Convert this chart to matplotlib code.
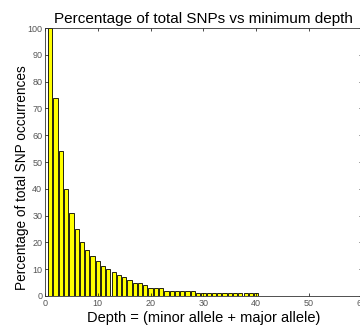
import numpy as np
import matplotlib.pyplot as plt

plt.rcParams['font.family'] = ['Liberation Sans', 'DejaVu Sans']

depth = list(range(1, 41))
percent = [100, 74, 54, 40, 31, 25, 20, 17, 15, 13,
           11, 10, 9, 8, 7, 6, 5, 5, 4, 3,
           3, 3, 2, 2, 2, 2, 2, 2, 1, 1,
           1, 1, 1, 1, 1, 1, 1, 1, 1, 1]

fig = plt.figure(figsize=(3.6, 3.27), dpi=100)
ax = fig.add_axes([0.125, 0.095, 0.88, 0.819])

ax.bar(depth, percent, width=0.8, color="yellow", edgecolor="black", linewidth=0.6)

ax.set_xlim(0, 60)
ax.set_ylim(0, 100)
ax.set_xticks(range(0, 61, 10))
ax.set_yticks(range(0, 101, 10))
ax.tick_params(direction="in", length=2, width=0.5, labelsize=6.5, labelcolor="#555555",
               top=True, right=True, pad=2)
for s in ax.spines.values():
    s.set_linewidth(0.6)
    s.set_color("#333333")

ax.set_title("Percentage of total SNPs vs minimum depth", fontsize=11, pad=4)
ax.set_xlabel("Depth = (minor allele + major allele)", fontsize=10.5)
ax.set_ylabel("Percentage of total SNP occurrences", fontsize=9.8)
ax.yaxis.set_label_coords(-0.05, 0.44)
ax.xaxis.set_label_coords(0.5, -0.055)
ax.xaxis.label.set_va("top")

fig.savefig("out.png", dpi=100)
